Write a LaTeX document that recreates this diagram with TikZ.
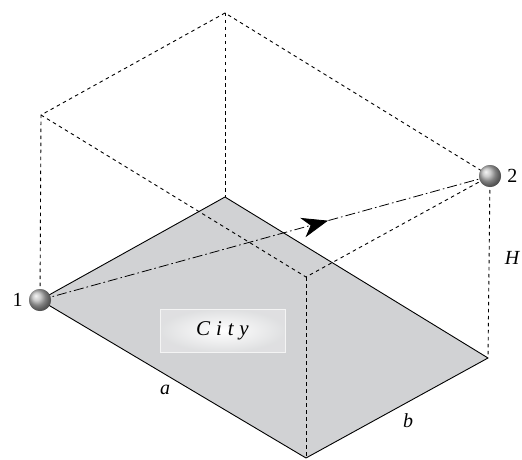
\documentclass[tikz,border=0pt]{standalone}
\usepackage{fontspec}
\setmainfont{Liberation Serif}
\usetikzlibrary{arrows.meta,decorations.markings,positioning}
\definecolor{CityGray}{HTML}{D1D2D4}
\definecolor{BoxEdge}{HTML}{F4F4F4}
\tikzset{
  hidden/.style={dash pattern=on 3.5pt off 3.5pt, line width=0.9pt},
  edge/.style={line width=0.9pt},
  ray/.style={dash pattern=on 10pt off 3pt on 1.6pt off 3pt, line width=0.8pt,
    postaction={decorate, decoration={markings,
      mark=at position 0.64 with {\arrow{Stealth[length=26pt, width=20pt, inset=8pt]}}}}},
  ball/.style={circle, minimum size=22pt, inner sep=0pt, ball color=gray!55},
  lbl/.style={font=\fontsize{20}{22}\selectfont, inner sep=1pt},
  ilbl/.style={font=\fontsize{20}{22}\selectfont\itshape, inner sep=1pt},
  citybox/.style={draw=BoxEdge, line width=0.8pt, inner color=white, outer color=CityGray!70,
    minimum width=125pt, minimum height=43pt,
    font=\fontsize{21}{23}\selectfont\itshape\addfontfeatures{LetterSpace=28}}
}
\begin{document}
\begin{tikzpicture}[x=1pt, y=-1pt]
  \useasboundingbox (0,0) rectangle (522,460);

  % ground plane
  \coordinate (left) at (40,300);
  \coordinate (back) at (225,197);
  \coordinate (right) at (488,358);
  \coordinate (front) at (306,458);
  % top of box
  \coordinate (topleft) at (41,115);
  \coordinate (topback) at (225,13);
  \coordinate (topfront) at (306,277);
  \coordinate (topright) at (490,176);

  \fill[CityGray] (left) -- (back) -- (right) -- (front) -- cycle;
  \draw[edge, line join=round] (left) -- (back) -- (right) -- (front) -- cycle;

  \draw[hidden] (left) -- (topleft) -- (topback) -- (topright);
  \draw[hidden] (topleft) -- (topfront) -- (topright);
  \draw[hidden] (topback) -- (back);
  \draw[hidden] (topfront) -- (front);
  \draw[hidden] (topright) -- (right);

  \node[citybox] (city) at (222.5,330.5) {City};

  \node[ball] (p1) at (left) {};
  \node[ball] (p2) at (topright) {};
  \draw[ray] (p1.center) -- (p2.center);
  \node[ball] at (left) {};
  \node[ball] at (topright) {};

  \node[lbl, left=5pt of p1] (n1) {1};
  \node[lbl, right=5pt of p2] (n2) {2};
  \node[ilbl] (h) at (512,258) {H};
  \node[ilbl] (a) at (165,390) {a};
  \node[ilbl] (b) at (408,421) {b};
\end{tikzpicture}
\end{document}
